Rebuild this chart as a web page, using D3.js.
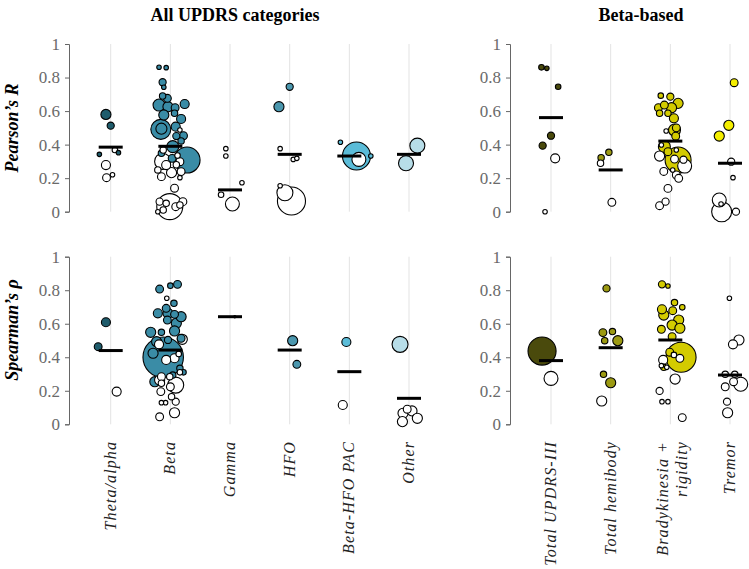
<!DOCTYPE html>
<html>
<head>
<meta charset="utf-8">
<script src="https://cdn.jsdelivr.net/npm/d3@7"></script>
<style>
  html, body { margin: 0; padding: 0; background: #fff; }
  svg { display: block; }
</style>
</head>
<body>
<svg id="chart" width="749" height="569"></svg>
<script>
// ---------------- DATA ----------------
const categoriesAll = ["Theta/alpha", "Beta", "Gamma", "HFO", "Beta-HFO PAC", "Other"];
const categoriesBeta = ["Total UPDRS-III", "Total hemibody", "Bradykinesia + rigidity", "Tremor"];
const yTicks = [0, 0.2, 0.4, 0.6, 0.8, 1];
const yTickLabels = ["0", "0.2", "0.4", "0.6", "0.8", "1"];

// group means (black bars)
const meanPearsonAll = [0.385, 0.39, 0.13, 0.342, 0.332, 0.342];
const meanSpearmanAll = [0.44, 0.443, 0.642, 0.443, 0.314, 0.155];
const meanPearsonBeta = [0.561, 0.249, 0.421, 0.289];
const meanSpearmanBeta = [0.38, 0.457, 0.503, 0.294];

// studies: [category index, correlation, jitter (category units), n, significant]
const pearsonAll = [
  [0,0.58,-0.08,10,1],[0,0.513,0,5,1],[0,0.342,-0.19,2,1],[0,0.352,0.13,2,1],[0,0.368,0.07,3,0],[0,0.278,-0.08,8,0],[0,0.203,-0.07,6,0],[0,0.22,0.03,2,0],
  [1,0.861,-0.19,2,1],[1,0.859,-0.07,2,1],[1,0.772,-0.13,5,1],[1,0.742,-0.11,2,1],[1,0.69,-0.13,4,1],[1,0.676,-0.05,6,1],[1,0.636,-0.19,14,1],[1,0.626,-0.04,10,1],
  [1,0.62,0.08,6,1],[1,0.642,0.24,8,1],[1,0.587,0.07,4,1],[1,0.577,-0.11,10,1],[1,0.553,0.18,8,1],[1,0.491,-0.16,39,1],[1,0.495,-0.15,12,1],[1,0.507,0.09,8,1],
  [1,0.487,0.16,2,0],[1,0.453,0.22,6,1],[1,0.451,0.10,5,1],[1,0.422,0.18,4,1],[1,0.388,0.04,14,1],[1,0.308,0.28,66,1],[1,0.348,-0.15,4,1],[1,0.318,0.03,6,1],
  [1,0.368,-0.12,4,0],[1,0.30,-0.13,25,0],[1,0.298,0.16,6,0],[1,0.278,-0.07,8,0],[1,0.249,-0.21,4,0],[1,0.233,0.02,10,0],[1,0.239,0.18,6,0],[1,0.209,-0.15,6,0],
  [1,0.203,0.16,2,0],[1,0.14,0.07,6,0],[1,0.06,-0.18,5,0],[1,0.05,-0.07,4,0],[1,0.06,0.21,6,0],[1,0.03,0.09,6,0],[1,0.03,-0.01,66,0],[1,0.0,-0.21,2,0],
  [1,0.01,-0.12,4,0],[1,0.04,0.16,4,0],[1,0.335,0.12,3,0],[1,0.28,0.10,4,0],
  [2,0.376,-0.07,2,0],[2,0.332,-0.07,2,0],[2,0.173,0.2,2,0],[2,0.101,-0.15,3,0],[2,0.046,0.04,19,0],
  [3,0.745,0,5,1],[3,0.626,-0.18,10,1],[3,0.376,-0.16,2,0],[3,0.312,0.06,2,0],[3,0.318,0.12,2,0],[3,0.155,-0.16,2,0],[3,0.113,-0.08,25,0],[3,0.064,0.03,77,0],
  [4,0.414,-0.15,2,1],[4,0.332,0.12,77,1],[4,0.312,0.16,19,0],[4,0.332,0.36,2,1],
  [5,0.394,0.14,22,1],[5,0.289,-0.05,22,1]
];
const spearmanAll = [
  [0,0.609,-0.08,8,1],[0,0.463,-0.21,6,1],[0,0.195,0.10,8,0],
  [1,0.807,-0.18,6,1],[1,0.827,0.0,3,1],[1,0.835,0.12,6,1],[1,0.752,-0.06,2,0],[1,0.722,0.06,4,1],[1,0.692,-0.07,6,1],[1,0.662,-0.21,8,1],[1,0.656,0.07,6,1],
  [1,0.622,-0.05,6,1],[1,0.603,0.10,10,1],[1,0.549,-0.33,10,1],[1,0.549,-0.15,4,1],[1,0.557,0.07,10,1],[1,0.513,0.18,6,1],[1,0.503,-0.04,5,1],[1,0.493,-0.23,10,1],
  [1,0.662,-0.04,10,1],[1,0.642,0.18,10,1],[1,0.40,-0.12,160,1],[1,0.424,-0.29,10,1],[1,0.254,-0.26,10,1],[1,0.294,0.04,4,1],[1,0.334,0.16,4,1],[1,0.31,0.22,3,1],
  [1,0.477,-0.19,8,0],[1,0.507,0.20,10,0],[1,0.394,0.07,8,0],[1,0.384,-0.07,8,0],[1,0.264,-0.18,10,0],[1,0.234,0.09,25,0],[1,0.284,-0.01,4,0],[1,0.284,-0.15,6,0],
  [1,0.245,-0.15,4,0],[1,0.195,-0.16,6,0],[1,0.224,0.0,6,0],[1,0.165,0.02,4,0],[1,0.135,0.09,5,0],[1,0.129,-0.08,2,0],[1,0.129,-0.15,2,0],[1,0.045,-0.18,6,0],
  [1,0.069,0.07,10,0],[1,0.42,0.14,3,0],[1,0.31,0.16,3,0],
  [2,0.642,0.08,0.5,1],
  [3,0.499,0.05,10,1],[3,0.358,0.12,6,1],
  [4,0.491,-0.05,8,1],[4,0.115,-0.11,8,0],
  [5,0.477,-0.15,25,1],[5,0.066,-0.10,10,0],[5,0.08,0.05,10,0],[5,0.036,0.14,10,0],[5,0.016,-0.11,10,0],[5,0.09,-0.03,6,0]
];
const pearsonBeta = [
  [0,0.861,-0.16,3,1],[0,0.855,-0.07,2,1],[0,0.745,0.12,3,1],[0,0.453,0.0,5,1],[0,0.394,-0.14,5,1],[0,0.318,0.07,8,0],[0,0.0,-0.1,2,0],
  [1,0.354,-0.03,4,1],[1,0.322,-0.16,4,1],[1,0.289,-0.17,4,0],[1,0.056,0.02,6,0],
  [2,0.692,-0.16,3,1],[2,0.686,0.0,5,1],[2,0.646,0.13,10,1],[2,0.62,-0.2,6,1],[2,0.636,-0.1,6,1],[2,0.62,0.02,10,1],[2,0.587,-0.04,4,1],[2,0.587,-0.18,4,1],
  [2,0.557,0.06,8,1],[2,0.487,0.07,14,1],[2,0.50,0.10,6,1],[2,0.388,-0.1,14,1],[2,0.358,-0.04,6,1],[2,0.308,0.13,66,1],[2,0.45,0.09,6,1],
  [2,0.481,-0.07,2,0],[2,0.398,-0.15,2,0],[2,0.368,0.1,2,0],[2,0.332,-0.18,10,0],[2,0.314,0.07,6,0],[2,0.31,0.22,5,0],[2,0.272,0.24,19,0],[2,0.24,-0.11,6,0],
  [2,0.249,0.04,2,0],[2,0.219,0.1,6,0],[2,0.199,0.14,6,0],[2,0.139,-0.04,6,0],[2,0.036,-0.18,6,0],[2,0.06,-0.08,5,0],
  [3,0.769,0.07,6,1],[3,0.515,-0.02,10,1],[3,0.451,-0.18,10,1],[3,0.298,0.02,5,0],[3,0.203,0.05,2,0],[3,0.07,-0.18,19,0],[3,0.046,-0.15,2,0],[3,0.0,-0.14,39,0],[3,0.0,0.1,5,0]
];
const spearmanBeta = [
  [0,0.437,-0.15,77,1],[0,0.274,0.0,19,0],
  [1,0.811,-0.07,5,1],[1,0.547,-0.13,6,1],[1,0.553,0.03,4,1],[1,0.499,-0.1,4,1],[1,0.499,0.12,10,1],[1,0.298,-0.12,4,1],[1,0.248,0.0,10,1],[1,0.139,-0.15,10,0],
  [2,0.835,-0.14,5,1],[2,0.825,-0.04,2,1],[2,0.726,0.07,4,1],[2,0.698,0.2,3,1],[2,0.686,-0.14,8,1],[2,0.652,-0.11,10,1],[2,0.678,0.04,6,1],[2,0.622,0.14,10,1],
  [2,0.592,0.03,10,1],[2,0.573,0.16,10,1],[2,0.567,-0.15,6,1],[2,0.523,0.03,6,1],[2,0.40,0.18,88,1],[2,0.43,-0.01,6,1],[2,0.34,-0.11,4,1],
  [2,0.414,0.06,3,0],[2,0.384,-0.12,8,0],[2,0.394,0.16,6,0],[2,0.35,-0.15,2,0],[2,0.34,-0.06,2,0],[2,0.27,0.08,10,0],[2,0.199,-0.18,5,0],[2,0.135,-0.14,2,0],
  [2,0.135,-0.04,2,0],[2,0.04,0.2,6,0],
  [3,0.752,-0.01,2,0],[3,0.477,0.05,8,0],[3,0.503,0.15,10,0],[3,0.298,-0.08,4,0],[3,0.298,0.08,4,0],[3,0.254,0.06,6,0],[3,0.239,0.18,19,0],[3,0.224,-0.08,6,0],
  [3,0.135,-0.05,5,0],[3,0.069,-0.04,10,0]
];

// fill colours of significant studies
const paletteAll = ["#1f5c6c", "#3a8ca6", "#3a8ca6", "#4b97ae", "#5bbcd8", "#b7dde8"];
const paletteBeta = ["#4a4a0c", "#9c9a12", "#d3cb00", "#f4ee00"];

// ---------------- DRAWING ----------------
const svg = d3.select("#chart");
const serif = "Liberation Serif, Times New Roman, serif";

const yTop = d3.scaleLinear().domain([0, 1]).range([211.7, 44]);
const yBot = d3.scaleLinear().domain([0, 1]).range([424.3, 256.7]);
const xAll = d3.scalePoint().domain(categoriesAll).range([110.7, 409]);
const xBeta = d3.scalePoint().domain(categoriesBeta).range([551, 730]);
const rScale = d3.scaleSqrt().domain([0, 100]).range([0, 16]);

function drawPanel(x, y, axisX, cats, points, means, palette) {
  const g = svg.append("g");
  // grid lines
  g.selectAll("line.grid").data(cats).join("line")
    .attr("x1", d => x(d)).attr("x2", d => x(d))
    .attr("y1", y(1)).attr("y2", y(0))
    .attr("stroke", "#e3e3e3").attr("stroke-width", 1);
  // y axis
  const ax = g.append("g").attr("transform", `translate(${axisX},0)`)
    .call(d3.axisLeft(y).tickValues(yTicks).tickFormat((d, i) => yTickLabels[i]).tickSize(4).tickPadding(5))
    .attr("font-family", serif).attr("font-size", 17);
  ax.select(".domain").attr("stroke", "#666").attr("stroke-width", 1);
  ax.selectAll(".tick line").attr("stroke", "#666");
  ax.selectAll(".tick text").attr("fill", "#6a6a6a");

  const step = x.step();
  const sorted = points.slice().sort((a, b) => b[3] - a[3]);
  g.selectAll("circle").data(sorted).join("circle")
    .attr("cx", d => x(cats[d[0]]) + d[2] * step)
    .attr("cy", d => y(d[1]))
    .attr("r", d => rScale(d[3]))
    .attr("fill", d => d[4] ? palette[d[0]] : "#fff")
    .attr("stroke", "#000").attr("stroke-width", 1.1);
  // mean bars
  g.selectAll("line.mean").data(means).join("line")
    .attr("x1", (d, i) => x(cats[i]) - 12).attr("x2", (d, i) => x(cats[i]) + 12)
    .attr("y1", d => y(d)).attr("y2", d => y(d))
    .attr("stroke", "#000").attr("stroke-width", 3);
}

drawPanel(xAll, yTop, 69, categoriesAll, pearsonAll, meanPearsonAll, paletteAll);
drawPanel(xAll, yBot, 69, categoriesAll, spearmanAll, meanSpearmanAll, paletteAll);
drawPanel(xBeta, yTop, 510, categoriesBeta, pearsonBeta, meanPearsonBeta, paletteBeta);
drawPanel(xBeta, yBot, 510, categoriesBeta, spearmanBeta, meanSpearmanBeta, paletteBeta);

// titles
svg.append("text").attr("x", 235).attr("y", 21).attr("text-anchor", "middle")
  .attr("font-family", serif).attr("font-weight", "bold").attr("font-size", 18).text("All UPDRS categories");
svg.append("text").attr("x", 641).attr("y", 21).attr("text-anchor", "middle")
  .attr("font-family", serif).attr("font-weight", "bold").attr("font-size", 18).text("Beta-based");

// y axis titles
svg.append("text").attr("transform", "translate(18,128) rotate(-90)").attr("text-anchor", "middle")
  .attr("font-family", serif).attr("font-weight", "bold").attr("font-style", "italic").attr("font-size", 18)
  .text("Pearson\u2019s R");
svg.append("text").attr("transform", "translate(18,330) rotate(-90)").attr("text-anchor", "middle")
  .attr("font-family", serif).attr("font-weight", "bold").attr("font-style", "italic").attr("font-size", 18)
  .text("Spearman\u2019s \u03c1");

// category labels
function catLabels(x, cats) {
  cats.forEach(c => {
    const lines = c === "Bradykinesia + rigidity" ? ["Bradykinesia +", "rigidity"] : [c];
    lines.forEach((t, j) => {
      const off = lines.length === 1 ? 5 : (j === 0 ? -2 : 17);
      svg.append("text")
        .attr("transform", `translate(${x(c) + off},441) rotate(-90)`)
        .attr("text-anchor", "end")
        .attr("fill", "#222")
        .attr("font-family", serif).attr("font-style", "italic").attr("font-size", 16)
        .attr("letter-spacing", 1.1)
        .text(t);
    });
  });
}
catLabels(xAll, categoriesAll);
catLabels(xBeta, categoriesBeta);
</script>
</body>
</html>
